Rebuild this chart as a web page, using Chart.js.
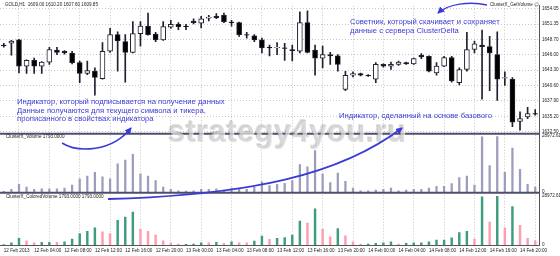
<!DOCTYPE html>
<html>
<head>
<meta charset="utf-8">
<script src="https://cdn.jsdelivr.net/npm/chart.js@4.4.1/dist/chart.umd.min.js"></script>
<style>
  body { margin: 0; background: #fff; }
  #wrap { position: relative; width: 560px; height: 256px; overflow: hidden; font-family: "Liberation Sans", Arial, sans-serif; }
  canvas { position: absolute; left: 0; top: 0; }
  .lbl { position: absolute; font-size: 4.6px; line-height: 4.6px; color: #222; white-space: nowrap; }
  .note { position: absolute; font-size: 7.7px; line-height: 8.6px; color: #3c3cd4; white-space: nowrap; }
  .wm { position: absolute; left: 168px; top: 116px; font-size: 31px; line-height: 31px; font-weight: bold; letter-spacing: 0.4px;
        color: rgba(150,150,150,0.3); text-shadow: 1px 1px 0 rgba(255,255,255,0.7), -1px -1px 0 rgba(110,110,110,0.2); white-space: nowrap; }
  svg { position: absolute; left: 0; top: 0; }
</style>
</head>
<body>
<div id="wrap">
  <canvas id="gold" width="560" height="256"></canvas>
  <div class="wm">strategy4you.ru</div>
  <div class="lbl" style="left:5px;top:2.7px">GOLD,H1&nbsp; 1609.00 1610.20 1607.60 1609.85</div>
  <div class="lbl" style="left:490px;top:2.7px">ClusterX_GetVolume <span style="font-family:'DejaVu Sans';">&#9786;</span></div>
  <div class="lbl" style="left:6px;top:135.4px">ClusterX_Volume 1793.0000</div>
  <div class="lbl" style="left:6px;top:195.4px">ClusterX_ColoredVolume 1793.0000 1793.0000</div>
  <div class="note" style="left:350px;top:18.4px">Советник, который скачивает и сохраняет<br>данные с сервера ClusterDelta</div>
  <div class="note" style="left:17px;top:98px">Индикатор, который подписывается на получение данных<br>Данные получаются для текущего символа и тикера,<br>прописанного в свойствах индикатора</div>
  <div class="note" style="left:339px;top:112.4px">Индикатор, сделанный на основе базового</div>
  <svg width="560" height="256">
    <defs>
      <marker id="head" markerWidth="7" markerHeight="7" refX="6" refY="3.5" orient="auto" markerUnits="userSpaceOnUse">
        <path d="M0,0 L7,3.5 L0,7 Z" fill="#3a3ad6"/>
      </marker>
    </defs>
    <path d="M487,5 C470,1 448,4 438,13" fill="none" stroke="#3a3ad6" stroke-width="1.5" marker-end="url(#head)"/>
    <path d="M62,143 C78,153 112,152 131,128" fill="none" stroke="#3a3ad6" stroke-width="1.5" marker-end="url(#head)"/>
    <path d="M108,199 C250,195 340,175 402,128" fill="none" stroke="#3a3ad6" stroke-width="1.8" marker-end="url(#head)"/>
  </svg>
</div>
<script>
// hourly bars, 12 Feb 2013 00:00 .. 14 Feb 22:00
const hours = [
  '12 Feb 00:00','12 Feb 01:00','12 Feb 02:00','12 Feb 03:00','12 Feb 04:00','12 Feb 05:00','12 Feb 06:00','12 Feb 07:00',
  '12 Feb 08:00','12 Feb 09:00','12 Feb 10:00','12 Feb 11:00','12 Feb 12:00','12 Feb 13:00','12 Feb 14:00','12 Feb 15:00',
  '12 Feb 16:00','12 Feb 17:00','12 Feb 18:00','12 Feb 19:00','12 Feb 20:00','12 Feb 21:00','12 Feb 22:00','12 Feb 23:00',
  '13 Feb 00:00','13 Feb 01:00','13 Feb 02:00','13 Feb 03:00','13 Feb 04:00','13 Feb 05:00','13 Feb 06:00','13 Feb 07:00',
  '13 Feb 08:00','13 Feb 09:00','13 Feb 10:00','13 Feb 11:00','13 Feb 12:00','13 Feb 13:00','13 Feb 14:00','13 Feb 15:00',
  '13 Feb 16:00','13 Feb 17:00','13 Feb 18:00','13 Feb 19:00','13 Feb 20:00','13 Feb 21:00','13 Feb 22:00','13 Feb 23:00',
  '14 Feb 00:00','14 Feb 01:00','14 Feb 02:00','14 Feb 03:00','14 Feb 04:00','14 Feb 05:00','14 Feb 06:00','14 Feb 07:00',
  '14 Feb 08:00','14 Feb 09:00','14 Feb 10:00','14 Feb 11:00','14 Feb 12:00','14 Feb 13:00','14 Feb 14:00','14 Feb 15:00',
  '14 Feb 16:00','14 Feb 17:00','14 Feb 18:00','14 Feb 19:00','14 Feb 20:00','14 Feb 21:00','14 Feb 22:00'
];

const opens = [
  1647.7,1648.0,1648.6,1644.0,1645.0,1644.0,1644.7,1646.8,1646.6,1646.3,1644.6,1642.7,1643.1,1641.8,1646.6,1649.5,
  1648.3,1646.4,1649.7,1651.0,1649.6,1648.6,1650.8,1651.3,1651.0,1651.9,1651.5,1652.4,1652.7,1652.9,1651.7,1651.6,
  1649.5,1649.3,1648.6,1647.3,1647.2,1647.2,1646.9,1646.6,1651.6,1646.8,1645.4,1646.0,1645.8,1639.9,1642.4,1642.7,
  1642.4,1641.7,1644.3,1644.0,1644.3,1644.6,1644.4,1645.9,1645.7,1642.8,1644.0,1645.5,1641.1,1643.4,1646.9,1647.7,
  1647.4,1646.0,1641.9,1641.7,1634.3,1635.1,1635.7
];
const highs = [
  1648.0,1648.5,1648.7,1645.1,1645.4,1644.8,1647.3,1647.3,1646.7,1646.6,1644.9,1644.9,1643.7,1648.1,1650.6,1650.0,
  1649.5,1651.8,1651.8,1653.3,1649.9,1651.8,1652.0,1651.6,1651.3,1652.3,1652.7,1652.9,1653.2,1653.3,1652.0,1651.7,
  1649.9,1649.5,1648.9,1647.7,1648.1,1648.0,1647.7,1653.5,1653.7,1647.7,1647.5,1646.4,1646.0,1643.1,1643.0,1642.8,
  1642.5,1644.6,1644.4,1644.7,1644.9,1644.7,1645.4,1646.2,1645.8,1644.6,1645.7,1645.7,1643.7,1649.9,1648.4,1650.3,
  1649.2,1650.0,1643.0,1642.0,1636.0,1636.8,1636.4
];
const lows = [
  1647.3,1645.9,1642.8,1642.7,1642.7,1642.7,1644.3,1646.0,1646.1,1644.4,1641.1,1642.5,1638.9,1641.7,1646.4,1643.1,
  1641.2,1646.3,1647.5,1649.4,1648.3,1648.5,1650.6,1650.4,1650.4,1651.4,1650.7,1651.9,1652.3,1651.6,1651.0,1649.2,
  1648.9,1648.3,1646.3,1645.8,1646.0,1645.0,1644.9,1646.3,1646.3,1642.4,1643.7,1644.3,1643.1,1639.7,1642.1,1642.3,
  1642.2,1641.1,1643.8,1643.4,1644.1,1644.3,1644.3,1645.3,1643.0,1642.4,1643.9,1641.2,1640.7,1643.1,1646.3,1638.2,
  1639.7,1638.0,1640.6,1633.4,1632.8,1634.8,1635.4
];
const closes = [
  1647.6,1648.4,1644.0,1645.0,1644.0,1644.7,1646.9,1646.4,1646.3,1644.6,1642.7,1643.2,1642.0,1646.6,1649.5,1648.4,
  1646.4,1649.7,1651.0,1649.5,1648.6,1650.9,1651.3,1650.9,1650.9,1651.6,1652.3,1652.6,1652.5,1651.8,1651.6,1649.5,
  1649.4,1648.6,1647.2,1647.2,1647.3,1647.1,1646.7,1651.6,1646.4,1645.4,1646.0,1645.8,1644.3,1642.4,1642.7,1642.4,
  1642.3,1644.3,1644.0,1644.3,1644.7,1644.4,1645.3,1645.6,1643.1,1644.0,1645.5,1641.4,1643.4,1646.9,1647.9,1647.4,
  1646.3,1641.7,1642.0,1634.2,1634.8,1635.7,1635.6
];

// ClusterX volume per bar, and whether the bar's delta was positive (green) or negative (pink)
const volumes = [
  200,1350,3860,2510,1350,1550,1550,1550,1930,3480,6760,8110,10040,7730,6760,14490,
  16420,19320,9270,8110,5790,2510,1350,580,390,580,1350,1350,1550,970,1930,1350,
  1350,2320,5220,3280,3860,4440,5790,14100,12940,21250,9270,4830,9660,5410,1930,580,
  580,970,1350,1930,580,970,1350,1350,1930,2900,2900,4250,7340,8110,3480,28390,
  13520,28590,10040,22600,11590,3860,2510
];
const deltaUp = [
  1,1,1,0,0,1,1,0,1,1,1,1,1,0,0,1,
  1,1,0,0,0,0,0,0,1,1,1,0,1,0,1,0,
  0,1,1,0,1,1,1,1,0,1,0,0,1,0,0,0,
  1,1,1,1,0,1,1,1,1,1,1,1,1,1,0,1,
  0,1,0,1,0,0,0
];

const priceTicks = [1654.05, 1651.35, 1648.70, 1646.00, 1643.30, 1640.60, 1637.90, 1635.20, 1632.50];
const volumeTicks = [0, 28972.61];
const timeTicks = [
  '12 Feb 2013','12 Feb 04:00','12 Feb 08:00','12 Feb 12:00','12 Feb 16:00','12 Feb 20:00',
  '13 Feb 00:00','13 Feb 04:00','13 Feb 08:00','13 Feb 12:00','13 Feb 16:00','13 Feb 20:00',
  '14 Feb 00:00','14 Feb 04:00','14 Feb 08:00','14 Feb 12:00','14 Feb 16:00','14 Feb 20:00'
];

const ink = '#202030';
const gridColor = '#c6c6c6';
const tickFont = { family: '"Liberation Sans", Arial, sans-serif', size: 4.6 };

const bodyColors = opens.map((o, i) => closes[i] >= o ? '#ffffff' : '#000000');
const deltaColors = deltaUp.map(u => u ? '#3f9c80' : '#ff9db0');

// thick separators between the indicator windows
const paneSeparators = {
  id: 'paneSeparators',
  afterDraw(chart) {
    const { ctx, scales } = chart;
    ctx.save();
    ctx.strokeStyle = '#4e4e6c';
    ctx.lineWidth = 2;
    [scales.yVol.top, scales.yCol.top].forEach(y => {
      ctx.beginPath();
      ctx.moveTo(0, y);
      ctx.lineTo(scales.yVol.left + 1, y);
      ctx.stroke();
    });
    ctx.restore();
  }
};

const volAxis = (weight, max, min) => ({
  position: 'right',
  stack: 'panes',
  stackWeight: weight,
  min: min,
  max: max,
  afterBuildTicks: s => { s.ticks = volumeTicks.map(v => ({ value: v })); },
  afterFit: s => { s.width = 21; },
  grid: { display: false, drawTicks: false },
  border: { color: '#555' },
  ticks: { font: tickFont, color: '#222', padding: 3, autoSkip: false,
           callback: v => v === 0 ? '0' : v.toFixed(2) }
});

const ctx = document.getElementById('gold').getContext('2d');
new Chart(ctx, {
  type: 'bar',
  data: {
    labels: hours,
    datasets: [
      {
        label: 'wick',
        data: lows.map((l, i) => [l, highs[i]]),
        backgroundColor: ink,
        barThickness: 1,
        grouped: false,
        yAxisID: 'yPrice',
        order: 2
      },
      {
        label: 'body',
        data: opens.map((o, i) => [o, closes[i]]),
        backgroundColor: bodyColors,
        borderColor: ink,
        borderWidth: 1,
        borderSkipped: false,
        barThickness: 5,
        grouped: false,
        yAxisID: 'yPrice',
        order: 1
      },
      {
        label: 'ClusterX_Volume',
        data: volumes,
        backgroundColor: '#9c9cbc',
        barThickness: 1.6,
        grouped: false,
        yAxisID: 'yVol'
      },
      {
        label: 'ClusterX_ColoredVolume',
        data: volumes,
        backgroundColor: deltaColors,
        barThickness: 1.8,
        grouped: false,
        yAxisID: 'yCol'
      }
    ]
  },
  options: {
    responsive: false,
    animation: false,
    layout: { padding: { top: 2, left: 0, right: 0, bottom: 0 } },
    plugins: { legend: { display: false }, tooltip: { enabled: false } },
    scales: {
      x: {
        offset: true,
        afterFit: s => { s.height = 11; },
        grid: { offset: false, drawTicks: false,
                color: c => c.index % 4 === 2 ? gridColor : 'rgba(0,0,0,0)' },
        border: { color: '#555', dash: [1, 2] },
        ticks: { font: tickFont, color: '#222', padding: 2.5, autoSkip: false,
                 maxRotation: 0, minRotation: 0, align: 'start',
                 callback: (v, i) => i % 4 === 0 ? timeTicks[i / 4] : '' }
      },
      yPrice: {
        position: 'right',
        stack: 'panes',
        stackWeight: 130,
        weight: 1,
        min: 1632.155,
        max: 1654.567,
        afterBuildTicks: s => { s.ticks = priceTicks.map(v => ({ value: v })); },
        afterFit: s => { s.width = 21; },
        grid: { color: gridColor, drawTicks: false },
        border: { color: '#555', dash: [1, 2] },
        ticks: { font: tickFont, color: '#222', padding: 3, autoSkip: false,
                 callback: v => v.toFixed(2) }
      },
      yVol: Object.assign(volAxis(60, 29989.2, -508.3), { weight: 2 }),
      yCol: Object.assign(volAxis(53, 30711, 0), { weight: 3 })
    }
  },
  plugins: [paneSeparators]
});
</script>
</body>
</html>
